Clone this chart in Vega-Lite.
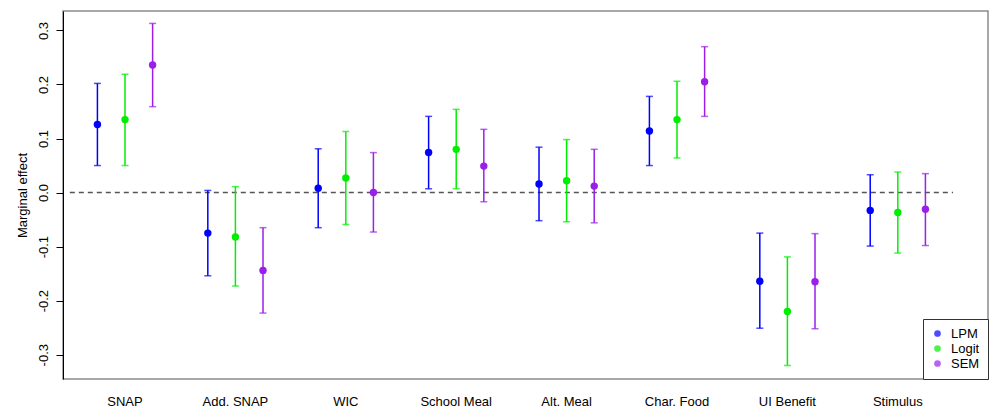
{
  "$schema": "https://vega.github.io/schema/vega-lite/v6.json",
  "width": 925,
  "height": 368,
  "autosize": {"type": "none"},
  "padding": {"left": 63, "top": 11, "right": 2, "bottom": 33},
  "background": "white",
  "config": {
    "view": {"stroke": "#8c8c8c", "strokeWidth": 1.5},
    "font": "Liberation Sans"
  },
  "data": {
    "values": [
      {"cat": "SNAP", "model": "LPM", "est": 0.126, "lo": 0.050, "hi": 0.202},
      {"cat": "SNAP", "model": "Logit", "est": 0.135, "lo": 0.050, "hi": 0.219},
      {"cat": "SNAP", "model": "SEM", "est": 0.236, "lo": 0.159, "hi": 0.313},
      {"cat": "Add. SNAP", "model": "LPM", "est": -0.075, "lo": -0.154, "hi": 0.004},
      {"cat": "Add. SNAP", "model": "Logit", "est": -0.082, "lo": -0.173, "hi": 0.011},
      {"cat": "Add. SNAP", "model": "SEM", "est": -0.144, "lo": -0.223, "hi": -0.065},
      {"cat": "WIC", "model": "LPM", "est": 0.008, "lo": -0.065, "hi": 0.081},
      {"cat": "WIC", "model": "Logit", "est": 0.027, "lo": -0.059, "hi": 0.113},
      {"cat": "WIC", "model": "SEM", "est": 0.0, "lo": -0.073, "hi": 0.074},
      {"cat": "School Meal", "model": "LPM", "est": 0.074, "lo": 0.007, "hi": 0.141},
      {"cat": "School Meal", "model": "Logit", "est": 0.080, "lo": 0.007, "hi": 0.154},
      {"cat": "School Meal", "model": "SEM", "est": 0.049, "lo": -0.017, "hi": 0.117},
      {"cat": "Alt. Meal", "model": "LPM", "est": 0.016, "lo": -0.052, "hi": 0.084},
      {"cat": "Alt. Meal", "model": "Logit", "est": 0.022, "lo": -0.054, "hi": 0.098},
      {"cat": "Alt. Meal", "model": "SEM", "est": 0.012, "lo": -0.056, "hi": 0.080},
      {"cat": "Char. Food", "model": "LPM", "est": 0.114, "lo": 0.050, "hi": 0.178},
      {"cat": "Char. Food", "model": "Logit", "est": 0.135, "lo": 0.064, "hi": 0.206},
      {"cat": "Char. Food", "model": "SEM", "est": 0.205, "lo": 0.141, "hi": 0.270},
      {"cat": "UI Benefit", "model": "LPM", "est": -0.164, "lo": -0.251, "hi": -0.075},
      {"cat": "UI Benefit", "model": "Logit", "est": -0.220, "lo": -0.320, "hi": -0.119},
      {"cat": "UI Benefit", "model": "SEM", "est": -0.165, "lo": -0.252, "hi": -0.076},
      {"cat": "Stimulus", "model": "LPM", "est": -0.033, "lo": -0.099, "hi": 0.033},
      {"cat": "Stimulus", "model": "Logit", "est": -0.037, "lo": -0.112, "hi": 0.038},
      {"cat": "Stimulus", "model": "SEM", "est": -0.031, "lo": -0.098, "hi": 0.035}
    ]
  },
  "encoding": {
    "x": {
      "field": "cat",
      "type": "nominal",
      "sort": ["SNAP", "Add. SNAP", "WIC", "School Meal", "Alt. Meal", "Char. Food", "UI Benefit", "Stimulus"],
      "scale": {"paddingInner": 0, "paddingOuter": 0.1893, "align": 0.163},
      "axis": {"title": null, "labelAngle": 0, "ticks": false, "domain": false, "labelPadding": 16, "labelFontSize": 13, "labelColor": "black"}
    },
    "xOffset": {
      "field": "model",
      "type": "nominal",
      "sort": ["LPM", "Logit", "SEM"],
      "scale": {"paddingInner": 0, "paddingOuter": 0.5}
    },
    "color": {
      "field": "model",
      "type": "nominal",
      "sort": ["LPM", "Logit", "SEM"],
      "scale": {"domain": ["LPM", "Logit", "SEM"], "range": ["#0000FF", "#00EE00", "#9A1FE8"]},
      "legend": {"title": null, "orient": "bottom-right", "offset": 0, "strokeColor": "#333", "fillColor": "white", "padding": 8, "symbolType": "circle", "symbolSize": 45, "labelFontSize": 13, "labelColor": "black", "labelOffset": 7, "rowPadding": 1, "symbolStrokeWidth": 0}
    }
  },
  "layer": [
    {
      "data": {"values": [{"z": 0}]},
      "mark": {"type": "rule", "strokeDash": [5, 4], "color": "#555555", "strokeWidth": 1.5},
      "encoding": {
        "x": {"datum": "SNAP", "bandPosition": 0},
        "x2": {"datum": "Stimulus", "bandPosition": 1},
        "xOffset": null,
        "color": null,
        "y": {"field": "z", "type": "quantitative"}
      }
    },
    {
      "mark": {"type": "rule", "strokeWidth": 1.5},
      "encoding": {
        "y": {
          "field": "lo",
          "type": "quantitative",
          "scale": {"domain": [-0.345, 0.336], "nice": false, "zero": false},
          "axis": {
            "title": "Marginal effect",
            "values": [-0.3, -0.2, -0.1, 0, 0.1, 0.2, 0.3],
            "labelExpr": "replace(format(datum.value, '.1f'), '\u2212', '-')",
            "labelAngle": -90,
            "labelAlign": "center",
            "labelBaseline": "bottom",
            "tickSize": 7,
            "labelPadding": 6,
            "tickColor": "black",
            "domainColor": "black",
            "grid": false,
            "labelFontSize": 13,
            "labelColor": "black",
            "titleFontSize": 13,
            "titleFontWeight": "normal",
            "titleColor": "black",
            "titlePadding": 8
          }
        },
        "y2": {"field": "hi"}
      }
    },
    {
      "mark": {"type": "tick", "thickness": 1.5, "size": 7, "orient": "horizontal"},
      "encoding": {"y": {"field": "lo", "type": "quantitative"}}
    },
    {
      "mark": {"type": "tick", "thickness": 1.5, "size": 7, "orient": "horizontal"},
      "encoding": {"y": {"field": "hi", "type": "quantitative"}}
    },
    {
      "mark": {"type": "point", "filled": true, "size": 55, "opacity": 1},
      "encoding": {"y": {"field": "est", "type": "quantitative"}}
    }
  ]
}
